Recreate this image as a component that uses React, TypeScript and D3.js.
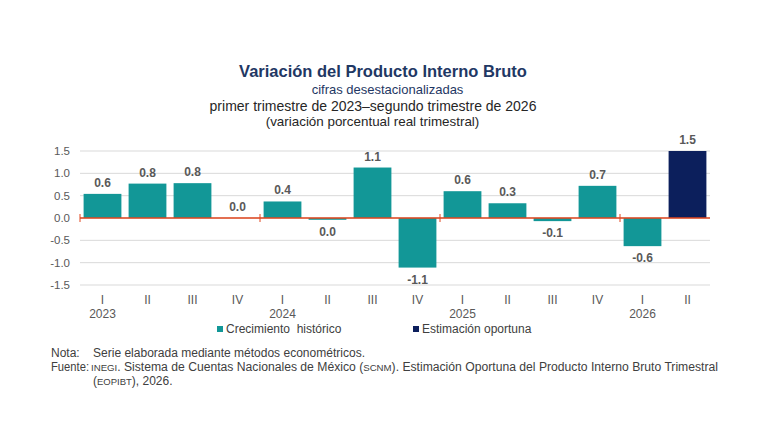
import React from "react";
import * as d3 from "d3";

const quarters = ["I", "II", "III", "IV", "I", "II", "III", "IV", "I", "II", "III", "IV", "I", "II"];
const years = ["2023", "", "", "", "2024", "", "", "", "2025", "", "", "", "2026", ""];
const values = [0.54, 0.77, 0.78, 0.0, 0.37, -0.04, 1.13, -1.11, 0.6, 0.33, -0.07, 0.72, -0.63, 1.5];
const valueLabels = ["0.6", "0.8", "0.8", "0.0", "0.4", "0.0", "1.1", "-1.1", "0.6", "0.3", "-0.1", "0.7", "-0.6", "1.5"];
const labelAbove = [true, true, true, true, true, false, true, false, true, true, false, true, false, true];
const series = ["hist", "hist", "hist", "hist", "hist", "hist", "hist", "hist", "hist", "hist", "hist", "hist", "hist", "oport"];
const yTicks = [1.5, 1.0, 0.5, 0.0, -0.5, -1.0, -1.5];
const legendLabels = ["Crecimiento\u00a0\u00a0histórico", "Estimación oportuna"];

const TEAL = "#129797";
const NAVY = "#0c1f5c";
const FONT = "'Liberation Sans', Arial, sans-serif";

export default function App() {
  const W = 768, H = 432;
  const x0 = 80, x1 = 710;
  const idx = quarters.map((_, i) => String(i));
  const x = d3.scaleBand<string>().domain(idx).range([x0, x1]).paddingInner(0.16).paddingOuter(0.08);
  const y = d3.scaleLinear().domain([-1.5, 1.5]).range([285, 151]);
  const step = x.step();
  const sepIdx = years.map((yv, i) => (yv ? i : -1)).filter((i) => i >= 0);

  return (
    <svg width={W} height={H} style={{ position: "absolute", left: 0, top: 0, background: "#fff" }} fontFamily={FONT}>
      <rect width={W} height={H} fill="#fff" />
      <text x={383} y={77} textAnchor="middle" fontSize={16.5} fontWeight="bold" fill="#1f3864">Variación del Producto Interno Bruto</text>
      <text x={387.5} y={94} textAnchor="middle" fontSize={13} fill="#1f3864">cifras desestacionalizadas</text>
      <text x={373} y={111} textAnchor="middle" fontSize={14} fill="#262626">primer trimestre de 2023–segundo trimestre de 2026</text>
      <text x={372.5} y={126} textAnchor="middle" fontSize={13.4} fill="#262626">(variación porcentual real trimestral)</text>

      {yTicks.map((t) => (
        <g key={t}>
          <line x1={x0} x2={x1} y1={y(t)} y2={y(t)} stroke="#d9d9d9" strokeWidth={1} />
          <text x={70} y={y(t) + 4} textAnchor="end" fontSize={11.5} fill="#595959">{t.toFixed(1)}</text>
        </g>
      ))}

      {values.map((v, i) => {
        const bx = x(String(i))!;
        const top = y(Math.max(0, v));
        const bot = y(Math.min(0, v));
        return (
          <rect key={i} x={bx} y={top} width={x.bandwidth()} height={Math.max(0, bot - top)} fill={series[i] === "hist" ? TEAL : NAVY} />
        );
      })}

      <line x1={x0} x2={x1} y1={y(0)} y2={y(0)} stroke="#e0461e" strokeWidth={1.5} />
      {sepIdx.map((i) => {
        const px = i === 0 ? x0 : x(String(i))! - step * 0.08;
        return <line key={i} x1={px} x2={px} y1={y(0) - 4} y2={y(0) + 4} stroke="#e0461e" strokeWidth={1} />;
      })}

      {values.map((v, i) => {
        const cx = x(String(i))! + x.bandwidth() / 2;
        const ly = labelAbove[i] ? y(Math.max(0, v)) - 7 : y(Math.min(0, v)) + 16;
        return (
          <text key={i} x={cx} y={ly} textAnchor="middle" fontSize={12} fontWeight="bold" fill="#595959">{valueLabels[i]}</text>
        );
      })}

      {quarters.map((q, i) => {
        const cx = x(String(i))! + x.bandwidth() / 2;
        return (
          <g key={i}>
            <text x={cx} y={304} textAnchor="middle" fontSize={12} fill="#595959">{q}</text>
            {years[i] && <text x={cx} y={318} textAnchor="middle" fontSize={12} fill="#595959">{years[i]}</text>}
          </g>
        );
      })}

      <rect x={217} y={326} width={6} height={6} fill={TEAL} />
      <text x={226} y={333} fontSize={12} fill="#404040">{legendLabels[0]}</text>
      <rect x={413} y={326} width={6} height={6} fill={NAVY} />
      <text x={422} y={333} fontSize={12} fill="#404040">{legendLabels[1]}</text>

      <g fontSize={12} fill="#404040">
        <text x={51} y={357}>Nota:</text>
        <text x={93} y={357} textLength={272} lengthAdjust="spacingAndGlyphs">Serie elaborada mediante métodos econométricos.</text>
        <text x={51} y={371} textLength={38} lengthAdjust="spacingAndGlyphs">Fuente:</text>
        <text x={91} y={371} textLength={627} lengthAdjust="spacingAndGlyphs">
          <tspan fontSize={9.5}>INEGI</tspan>. Sistema de Cuentas Nacionales de México (<tspan fontSize={9.5}>SCNM</tspan>). Estimación Oportuna del Producto Interno Bruto Trimestral
        </text>
        <text x={93} y={385}>(<tspan fontSize={9.5}>EOPIBT</tspan>), 2026.</text>
      </g>
    </svg>
  );
}
